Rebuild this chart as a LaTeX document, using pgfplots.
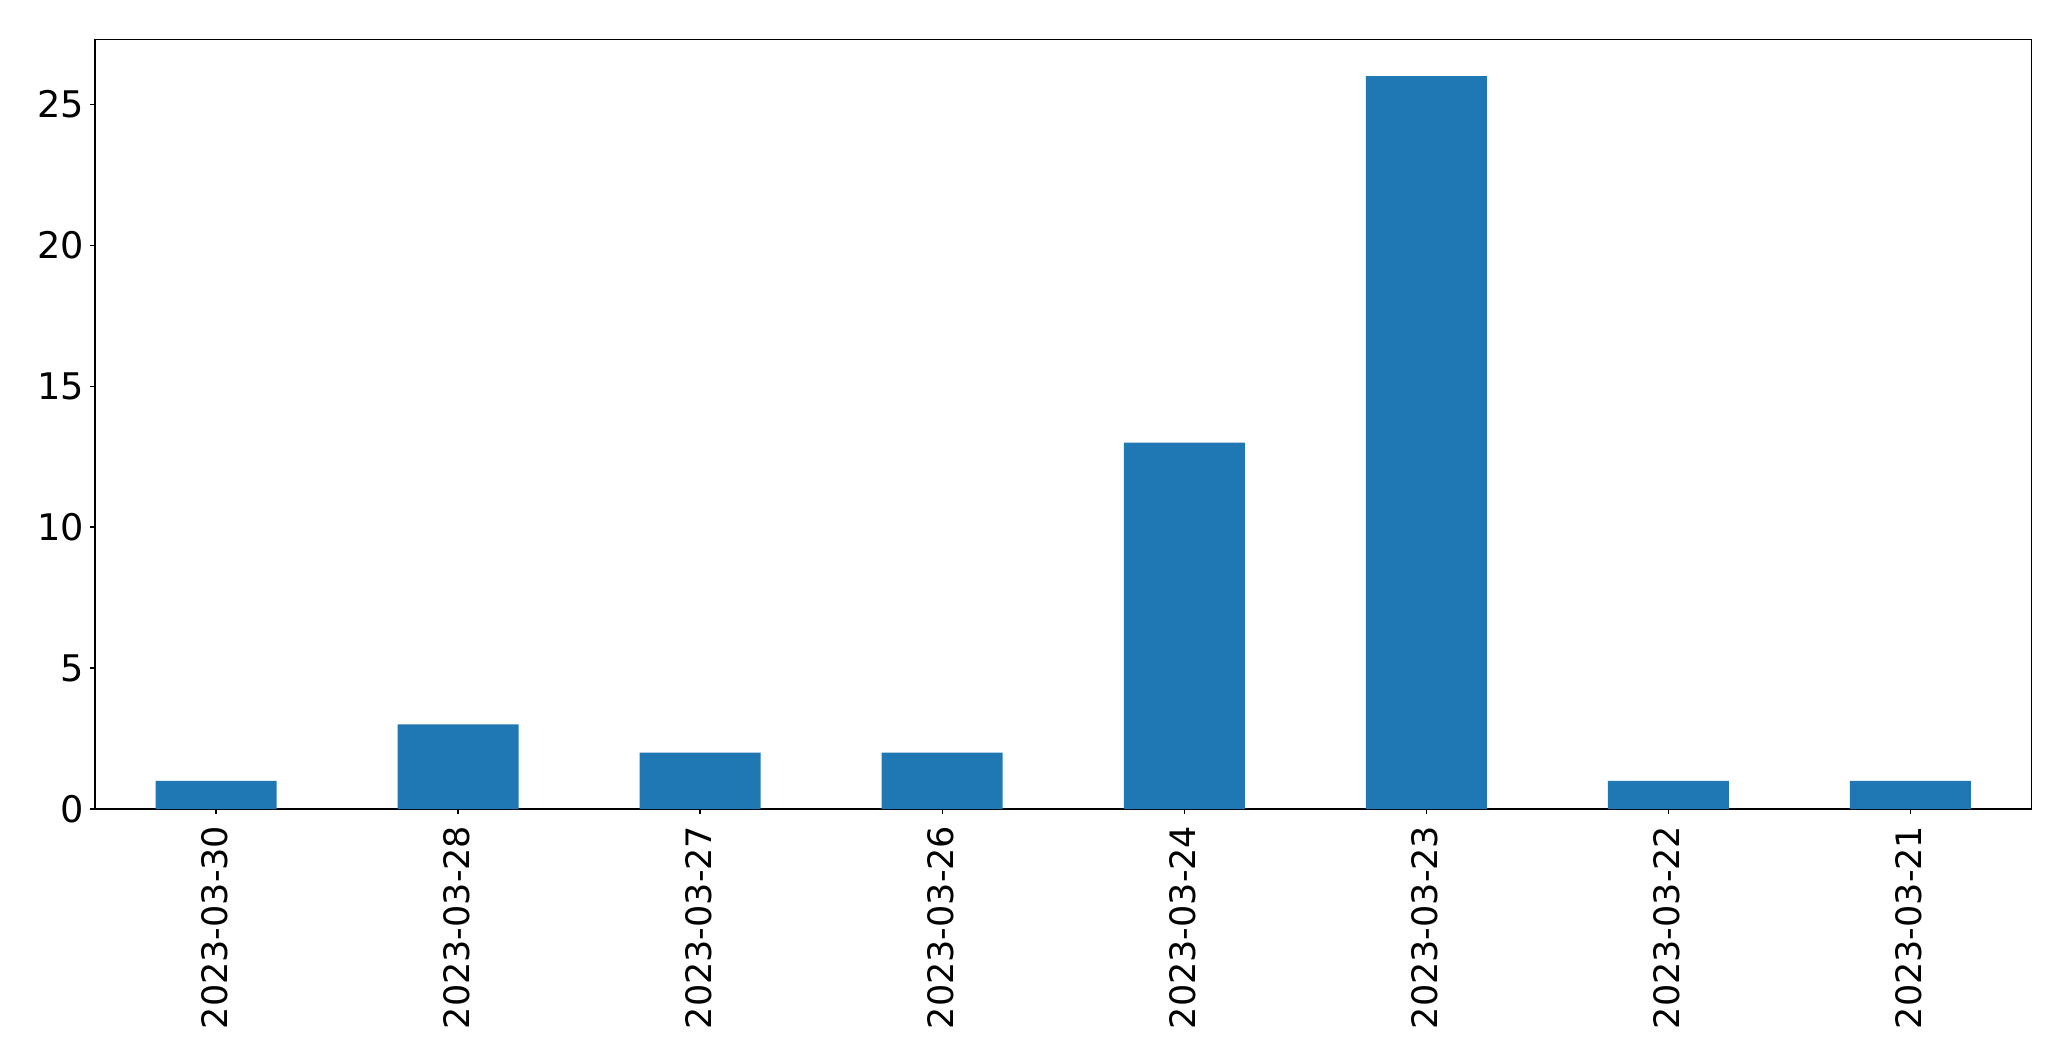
\documentclass[border=0pt]{standalone}
\usepackage{pgfplots}
\pgfplotsset{compat=1.18}
\usepackage{fontspec}
\setmainfont{DejaVu Sans}
\definecolor{mplblue}{HTML}{1F77B4}
\begin{document}
\begin{tikzpicture}
\path[use as bounding box] (-28.5pt,-75.6pt) rectangle (592.8pt,242.7pt);
\begin{axis}[
  scale only axis,
  width=580.95pt, height=230.85pt,
  anchor=south west, at={(0,0)},
  xmin=-0.5, xmax=7.5, ymin=0, ymax=27.3,
  xtick=data,
  xticklabels={2023-03-30,2023-03-28,2023-03-27,2023-03-26,2023-03-24,2023-03-23,2023-03-22,2023-03-21},
  x tick label style={rotate=90, anchor=east, font=\fontsize{10.5pt}{12.5pt}\selectfont},
  ytick={0,5,10,15,20,25},
  y tick label style={font=\fontsize{11pt}{13pt}\selectfont, xshift=1.8pt},
  /pgf/number format/assume math mode=true,
  tick align=outside,
  major tick length=1.5pt,
  tick style={black, line width=0.4pt},
  xtick pos=bottom, ytick pos=left,
  axis line style={line width=0.45pt},
  ybar, bar width=0.5, bar shift=0pt,
  xticklabel style={yshift=0.5pt},
]
\addplot[fill=mplblue, draw=none] coordinates {(0,1) (1,3) (2,2) (3,2) (4,13) (5,26) (6,1) (7,1)};
\end{axis}
\end{tikzpicture}
\end{document}
